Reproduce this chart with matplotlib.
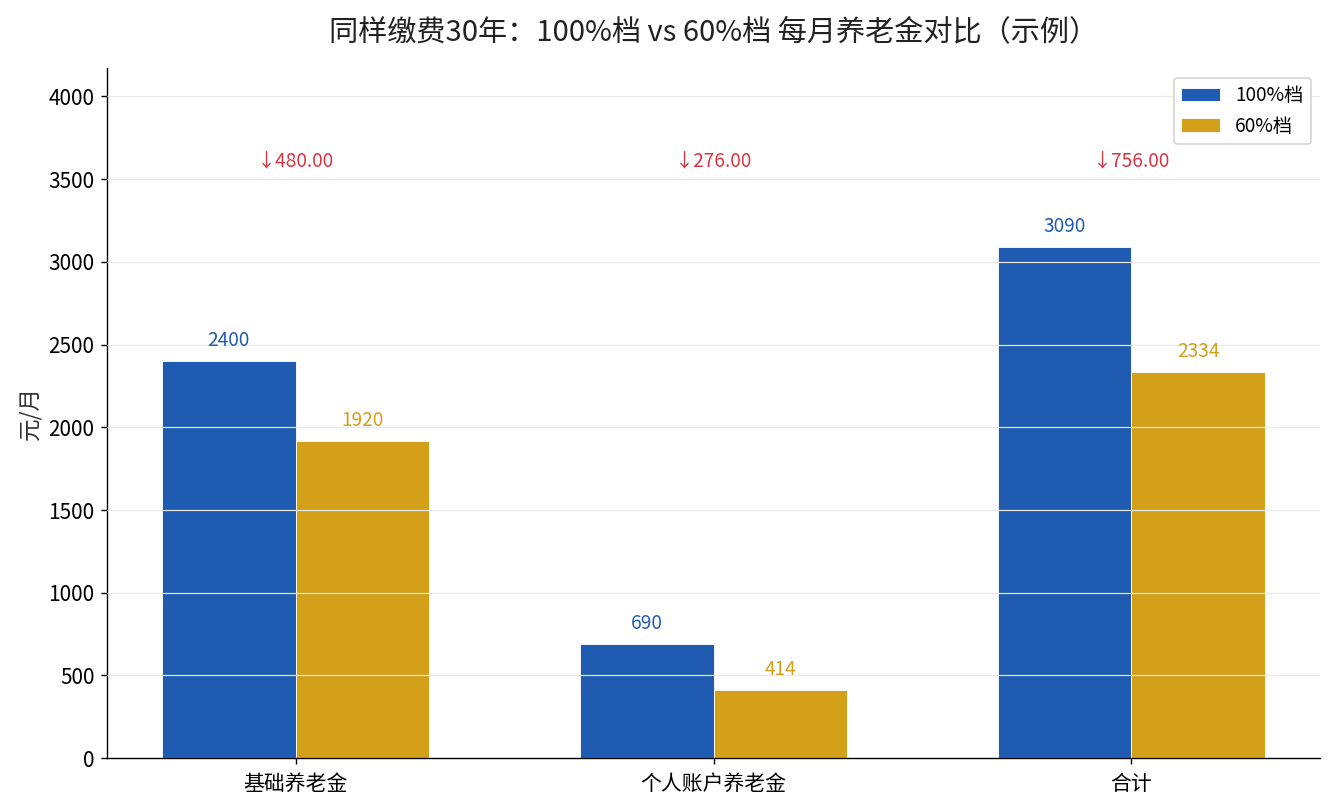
import matplotlib
matplotlib.use('Agg')
import matplotlib.pyplot as plt
import numpy as np

plt.rcParams['font.family'] = ['Noto Sans CJK SC', 'DejaVu Sans']

# data
categories = ['基础养老金', '个人账户养老金', '合计']
full_values = [2400, 690, 3090]
low_values = [1920, 414, 2334]
series_names = ['100%档', '60%档']

blue = '#1f5bb0'
gold = '#d4a01a'
red = '#d93340'

fig = plt.figure(figsize=(10.68, 6.48), dpi=125)
ax = fig.add_axes([0.080, 0.064, 0.909, 0.852])

x = np.arange(len(categories))
w = 0.32
b1 = ax.bar(x - w / 2, full_values, w, color=blue, edgecolor='white', linewidth=0.5, label=series_names[0])
b2 = ax.bar(x + w / 2, low_values, w, color=gold, edgecolor='white', linewidth=0.5, label=series_names[1])

ymax = max(full_values) * 1.35
ax.set_ylim(0, ymax)

# value labels
for rect, v in zip(b1, full_values):
    ax.text(rect.get_x() + rect.get_width() / 2, v + 60, f'{v}', ha='center', va='bottom',
            fontsize=11, color=blue)
for rect, v in zip(b2, low_values):
    ax.text(rect.get_x() + rect.get_width() / 2, v + 60, f'{v}', ha='center', va='bottom',
            fontsize=11, color=gold)

# difference labels
for xi, a, b in zip(x, full_values, low_values):
    ax.text(xi, ymax * 0.865, f'↓{a - b:.2f}', ha='center', va='center', fontsize=11, color=red)

ax.set_xticks(x)
ax.set_xticklabels(categories, fontsize=12)
ax.tick_params(axis='x', pad=5)
ax.tick_params(axis='y', labelsize=12)
ax.set_ylabel('元/月', fontsize=13, color='#333333')
ax.set_title('同样缴费30年：100%档 vs 60%档 每月养老金对比（示例）', fontsize=16.8, pad=16,
             color='#222222')

ax.grid(axis='y', color='#e8e8e8', linewidth=0.7)
ax.set_axisbelow(False)
for s in ['top', 'right']:
    ax.spines[s].set_visible(False)

ax.legend(loc='upper right', fontsize=11)

fig.savefig('out.png', dpi=125)
